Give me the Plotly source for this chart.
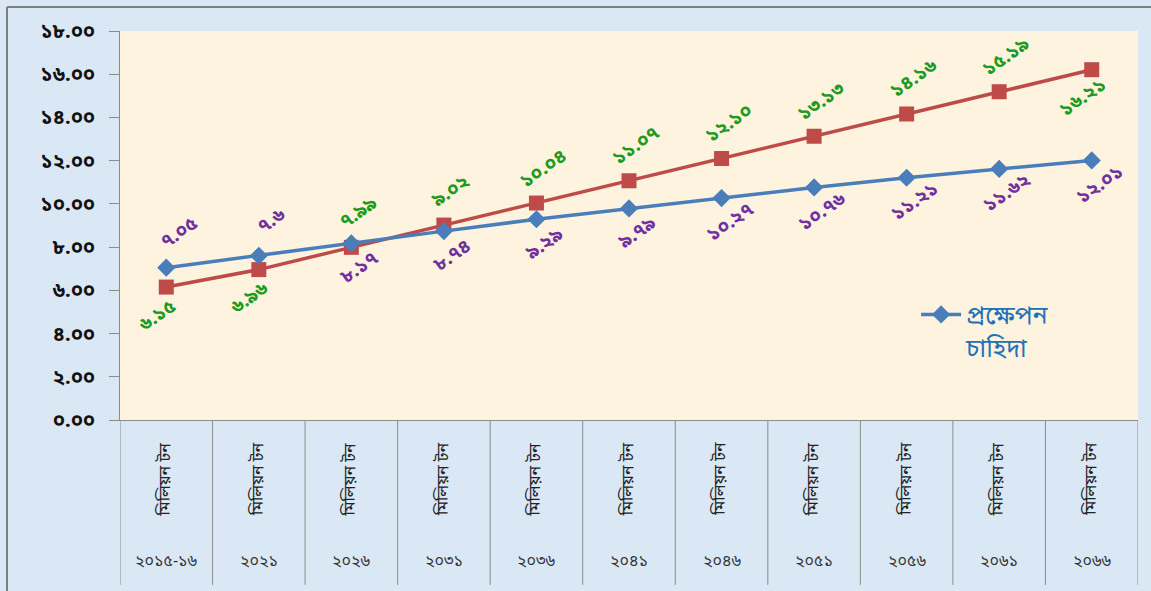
import plotly.graph_objects as go

# --- data -------------------------------------------------------------
years = ["২০১৫-১৬", "২০২১", "২০২৬", "২০৩১", "২০৩৬", "২০৪১",
         "২০৪৬", "২০৫১", "২০৫৬", "২০৬১", "২০৬৬"]
unit_label = "মিলিয়ন টন"

# blue series: projected demand
projected_demand = [7.05, 7.6, 8.17, 8.74, 9.29, 9.79, 10.27, 10.76, 11.21, 11.62, 12.01]
projected_decimals = [2, 1, 2, 2, 2, 2, 2, 2, 2, 2, 2]

# red series
red_values = [6.15, 6.96, 7.99, 9.02, 10.04, 11.07, 12.10, 13.13, 14.16, 15.19, 16.21]
red_decimals = [2, 2, 2, 2, 2, 2, 2, 2, 2, 2, 2]

y_ticks = [0, 2, 4, 6, 8, 10, 12, 14, 16, 18]

# label placement (style): +1 above the point, -1 below
blue_side = [1, 1, -1, -1, -1, -1, -1, -1, -1, -1, -1]
red_side = [-1, -1, 1, 1, 1, 1, 1, 1, 1, 1, -1]

BN = str.maketrans("0123456789", "০১২৩৪৫৬৭৮৯")


def bn(value, dec):
    return f"{value:.{dec}f}".translate(BN)


BLUE = "#4A7EBB"
RED = "#BE4B48"
PURPLE = "#7030A0"
GREEN = "#1E9A1E"
AXIS_GREY = "#8C8C8C"
FONT = "Noto Sans Bengali, Noto Sans, sans-serif"

fig = go.Figure()

fig.add_trace(go.Scatter(
    x=years, y=red_values, mode="lines+markers", name="",
    line=dict(color=RED, width=3.5),
    marker=dict(symbol="square", size=15, color=RED),
    showlegend=False,
))
fig.add_trace(go.Scatter(
    x=years, y=projected_demand, mode="lines+markers",
    name="প্রক্ষেপন<br>চাহিদা",
    line=dict(color=BLUE, width=3.5),
    marker=dict(symbol="diamond", size=14, color=BLUE),
))

annotations = []
# data labels
for i, yr in enumerate(years):
    s = blue_side[i]
    annotations.append(dict(
        x=yr, y=projected_demand[i], xref="x", yref="y",
        text=bn(projected_demand[i], projected_decimals[i]),
        showarrow=False, textangle=-35,
        xshift=14 if s > 0 else 9, yshift=34 if s > 0 else -25,
        font=dict(family=FONT, size=19, color=PURPLE, weight="bold"),
    ))
    s = red_side[i]
    annotations.append(dict(
        x=yr, y=red_values[i], xref="x", yref="y",
        text=bn(red_values[i], red_decimals[i]),
        showarrow=False, textangle=-35,
        xshift=8 if s > 0 else -8, yshift=34 if s > 0 else -29,
        font=dict(family=FONT, size=19, color=GREEN, weight="bold"),
    ))

# two-level category labels under the axis
for yr in years:
    annotations.append(dict(
        x=yr, y=-0.152, xref="x", yref="paper", text=unit_label,
        showarrow=False, textangle=-90, yanchor="middle", xanchor="center",
        font=dict(family=FONT, size=16, color="#222222"),
    ))
    annotations.append(dict(
        x=yr, y=-0.365, xref="x", yref="paper", text=yr,
        showarrow=False, yanchor="middle", xanchor="center",
        font=dict(family=FONT, size=16, color="#333333"),
    ))

shapes = []
# category dividers in the label band
for k in range(len(years) + 1):
    shapes.append(dict(
        type="line", xref="x", yref="paper",
        x0=k - 0.5, x1=k - 0.5, y0=0, y1=-0.424,
        line=dict(color=AXIS_GREY, width=1),
    ))
# outer frame (top and left edges)
shapes.append(dict(type="line", xref="paper", yref="paper",
                   x0=-0.111, x1=1.02, y0=1.0617, y1=1.0617,
                   line=dict(color="#7F7F7F", width=2)))
shapes.append(dict(type="line", xref="paper", yref="paper",
                   x0=-0.111, x1=-0.111, y0=1.0617, y1=-0.44,
                   line=dict(color="#7F7F7F", width=2)))

fig.update_layout(
    width=1151, height=591,
    margin=dict(l=120, r=13, t=31, b=171),
    paper_bgcolor="#DAE7F5",
    plot_bgcolor="#FDF3DE",
    font=dict(family=FONT),
    xaxis=dict(
        type="category", categoryorder="array", categoryarray=years,
        range=[-0.5, len(years) - 0.5],
        showticklabels=False, ticks="", showgrid=False, zeroline=False,
        showline=True, linecolor=AXIS_GREY, linewidth=1,
    ),
    yaxis=dict(
        range=[0, 18], tickvals=y_ticks,
        ticktext=[bn(v, 2) for v in y_ticks],
        ticks="outside", ticklen=10, tickcolor=AXIS_GREY,
        ticklabelstandoff=10,
        showline=True, linecolor=AXIS_GREY, linewidth=1,
        showgrid=False, zeroline=False,
        tickfont=dict(family=FONT, size=20, color="#111111", weight="bold"),
    ),
    legend=dict(
        x=0.782, y=0.33, xanchor="left", yanchor="top",
        bgcolor="rgba(0,0,0,0)", valign="top", itemwidth=40,
        font=dict(family=FONT, size=25, color="#2470B8"),
    ),
    annotations=annotations,
    shapes=shapes,
)

fig.write_html("out.html")
